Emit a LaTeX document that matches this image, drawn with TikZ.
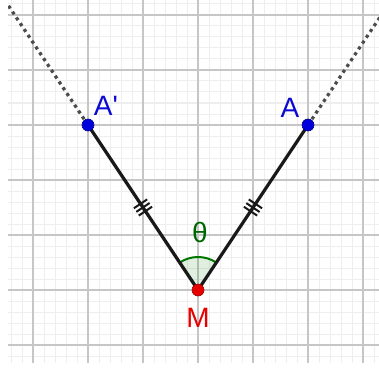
\documentclass[tikz,border=0pt]{standalone}
\usepackage{fontspec}
\setmainfont{Liberation Sans}
\usetikzlibrary{angles,decorations.markings,calc}
\definecolor{minorgrid}{RGB}{238,238,238}
\definecolor{majorgrid}{RGB}{198,198,198}
\definecolor{ptblue}{RGB}{0,0,220}
\definecolor{lblblue}{RGB}{10,10,210}
\definecolor{ptred}{RGB}{230,0,0}
\definecolor{anggreen}{RGB}{0,120,0}
\definecolor{thgreen}{RGB}{0,100,0}
\begin{document}
\begin{tikzpicture}[x=0.5pt,y=0.5pt,
  minorline/.style={draw=minorgrid,line width=0.5pt},
  majorline/.style={draw=majorgrid,line width=0.7pt},
  rayline/.style={draw=black!70,line width=1.6pt,dash pattern=on 1.6pt off 1.9pt},
  segline/.style={draw=black!90,line width=1.6pt},
  tickmark/.style={postaction={decorate},decoration={markings,mark=at position 0.5 with {\foreach \s in {-2.2,0,2.2} \draw[black!90,line width=1pt] (\s pt,-4pt) -- (\s pt,4pt);}}},
  bluept/.style={circle,fill=ptblue,draw=blue!50!black,line width=0.3pt,inner sep=0pt,minimum size=6pt},
  redpt/.style={circle,fill=ptred,draw=red!60!black,line width=0.3pt,inner sep=0pt,minimum size=6pt},
  lbl/.style={font=\fontsize{14}{16}\selectfont,inner sep=0pt}
]
\useasboundingbox (0,0) rectangle (379,370);
% grid
\foreach \i in {-17,...,16} \draw[minorline] ({198+11*\i},7) -- ({198+11*\i},370);
\foreach \j in {-6,...,26} \draw[minorline] (8,{80+11*\j}) -- (379,{80+11*\j});
\foreach \i in {-3,...,3} \draw[majorline] ({198+55*\i},7) -- ({198+55*\i},370);
\foreach \j in {-1,...,5} \draw[majorline] (8,{80+55*\j}) -- (379,{80+55*\j});
% points
\coordinate (M) at (198,80);
\coordinate (A) at (308,245);
\coordinate (Ap) at (88,245);
\coordinate (Aend) at ($(M)!2.2!(A)$);
\coordinate (Apend) at ($(M)!2.2!(Ap)$);
% rays
\begin{scope}
\clip (8,7) rectangle (379,370);
\draw[rayline] (A) -- (Aend);
\draw[rayline] (Ap) -- (Apend);
\end{scope}
% angle
\pic[draw=anggreen,fill=anggreen,fill opacity=0.12,line width=1pt,angle radius=16.5pt] {angle=A--M--Ap};
% segments
\draw[segline,tickmark] (Ap) -- (M);
\draw[segline,tickmark] (M) -- (A);
% point markers
\node[bluept] (PA) at (A) {};
\node[bluept] (PAp) at (Ap) {};
\node[redpt] (PM) at (M) {};
% labels
\node[lbl,text=lblblue] (LA) at (290,262) {A};
\node[lbl,text=lblblue] (LAp) at (106,264) {A\textquotesingle};
\node[lbl,text=ptred] (LM) at (198,52) {M};
\node[lbl,text=thgreen] (LT) at (200,138) {θ};
\end{tikzpicture}
\end{document}
